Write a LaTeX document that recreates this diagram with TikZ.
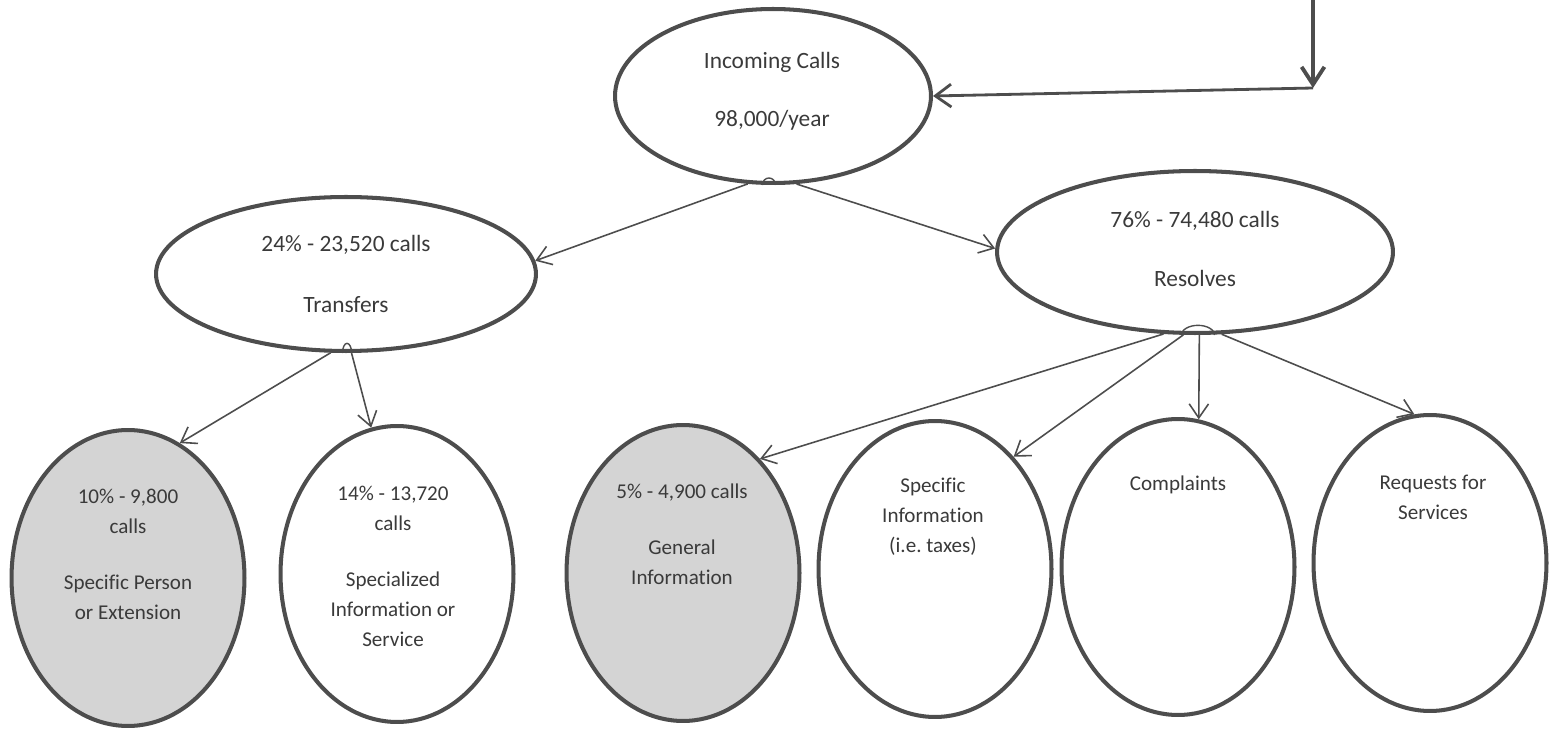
\documentclass[tikz,border=0pt]{standalone}
\usepackage{fontspec}
\setmainfont{Carlito}[Ligatures=NoCommon]
\frenchspacing
\usetikzlibrary{arrows.meta,shapes.geometric}
\definecolor{inkgray}{HTML}{4D4D4D}
\definecolor{txtgray}{HTML}{3A3A3A}
\definecolor{shadegray}{HTML}{D4D4D4}
\begin{document}
\begin{tikzpicture}[x=0.02cm,y=-0.02cm,
  oval/.style={ellipse,draw=inkgray,line width=2.3pt,inner sep=0pt},
  lowoval/.style={oval,minimum width=4.66cm,minimum height=5.92cm},
  toplab/.style={text=txtgray,align=center,font=\fontsize{13.3}{16}\selectfont},
  lab/.style={text=txtgray,align=center,font=\fontsize{12}{17}\selectfont},
  link/.style={draw=inkgray,line width=0.9pt,-{Straight Barb[length=8pt,width=11pt]}},
  bump/.style={draw=inkgray,line width=0.8pt}]
 \useasboundingbox (0,0) rectangle (1549,729);
 % upper ovals
 \node[oval,minimum width=6.32cm,minimum height=3.48cm] (inc) at (773,96) {};
 \node[oval,minimum width=7.6cm,minimum height=3.08cm] (tr) at (346,274) {};
 \node[oval,minimum width=7.92cm,minimum height=3.24cm] (res) at (1195,252) {};
 \node[toplab] (inctxt) at (772,91) {Incoming Calls\\[17pt]98,000/year};
 \node[toplab] (trtxt) at (346,274) {24\% - 23,520 calls\\[19pt]Transfers};
 \node[toplab] (restxt) at (1195,249) {76\% - 74,480 calls\\[18pt]Resolves};
 % lower ovals
 \node[lowoval,fill=shadegray] (e1) at (128,578) {};
 \node[lowoval] (e2) at (397,574) {};
 \node[lowoval,fill=shadegray] (e3) at (683,573) {};
 \node[lowoval] (e4) at (935,569) {};
 \node[lowoval] (e5) at (1178,567) {};
 \node[lowoval] (e6) at (1430,563) {};
 \node[lab] (e1txt) at (128,554) {10\% - 9,800\\calls\\[15pt]Specific Person\\or Extension};
 \node[lab] (e2txt) at (393,566) {14\% - 13,720\\calls\\[15pt]Specialized\\Information or\\Service};
 \node[lab] (e3txt) at (682,534) {5\% - 4,900 calls\\[15pt]General\\Information};
 \node[lab] (e4txt) at (933,517) {Specific\\Information\\(i.e. taxes)};
 \node[lab] (e5txt) at (1178,485) {Complaints};
 \node[lab] (e6txt) at (1433,497) {Requests for\\Services};
 % glue bumps
 \draw[bump] (inc.south) ++(-6.0pt,0) arc[start angle=180,end angle=0,x radius=3.7pt,y radius=4pt];
 \draw[bump] (tr.south) ++(-2.0pt,0) arc[start angle=180,end angle=0,x radius=2.6pt,y radius=5.5pt];
 \draw[bump] (res.south) ++(-7.7pt,0) arc[start angle=180,end angle=0,x radius=9.4pt,y radius=5.5pt];
 % connectors
 \coordinate (feed) at (1313,0);
 \coordinate (turn) at (1313,88);
 \draw[draw=inkgray,line width=2.2pt,-{Straight Barb[length=10pt,width=13pt]}] (feed) -- (turn);
 \draw[draw=inkgray,line width=1.6pt,-{Straight Barb[length=9pt,width=13pt]}] (turn) -- (inc.east);
 \draw[link] (inc.254) -- (tr.4);
 \draw[link] (inc.285) -- (res.179);
 \draw[link] (tr.259) -- (e1.69);
 \draw[link] (tr.274) -- (e2.100);
 \draw[link] (res.249) -- (e3.56);
 \draw[link] (res.262) -- (e4.55);
 \draw[link] (res.273) -- (e5.82);
 \draw[link] (res.288) -- (e6.96);
\end{tikzpicture}
\end{document}
